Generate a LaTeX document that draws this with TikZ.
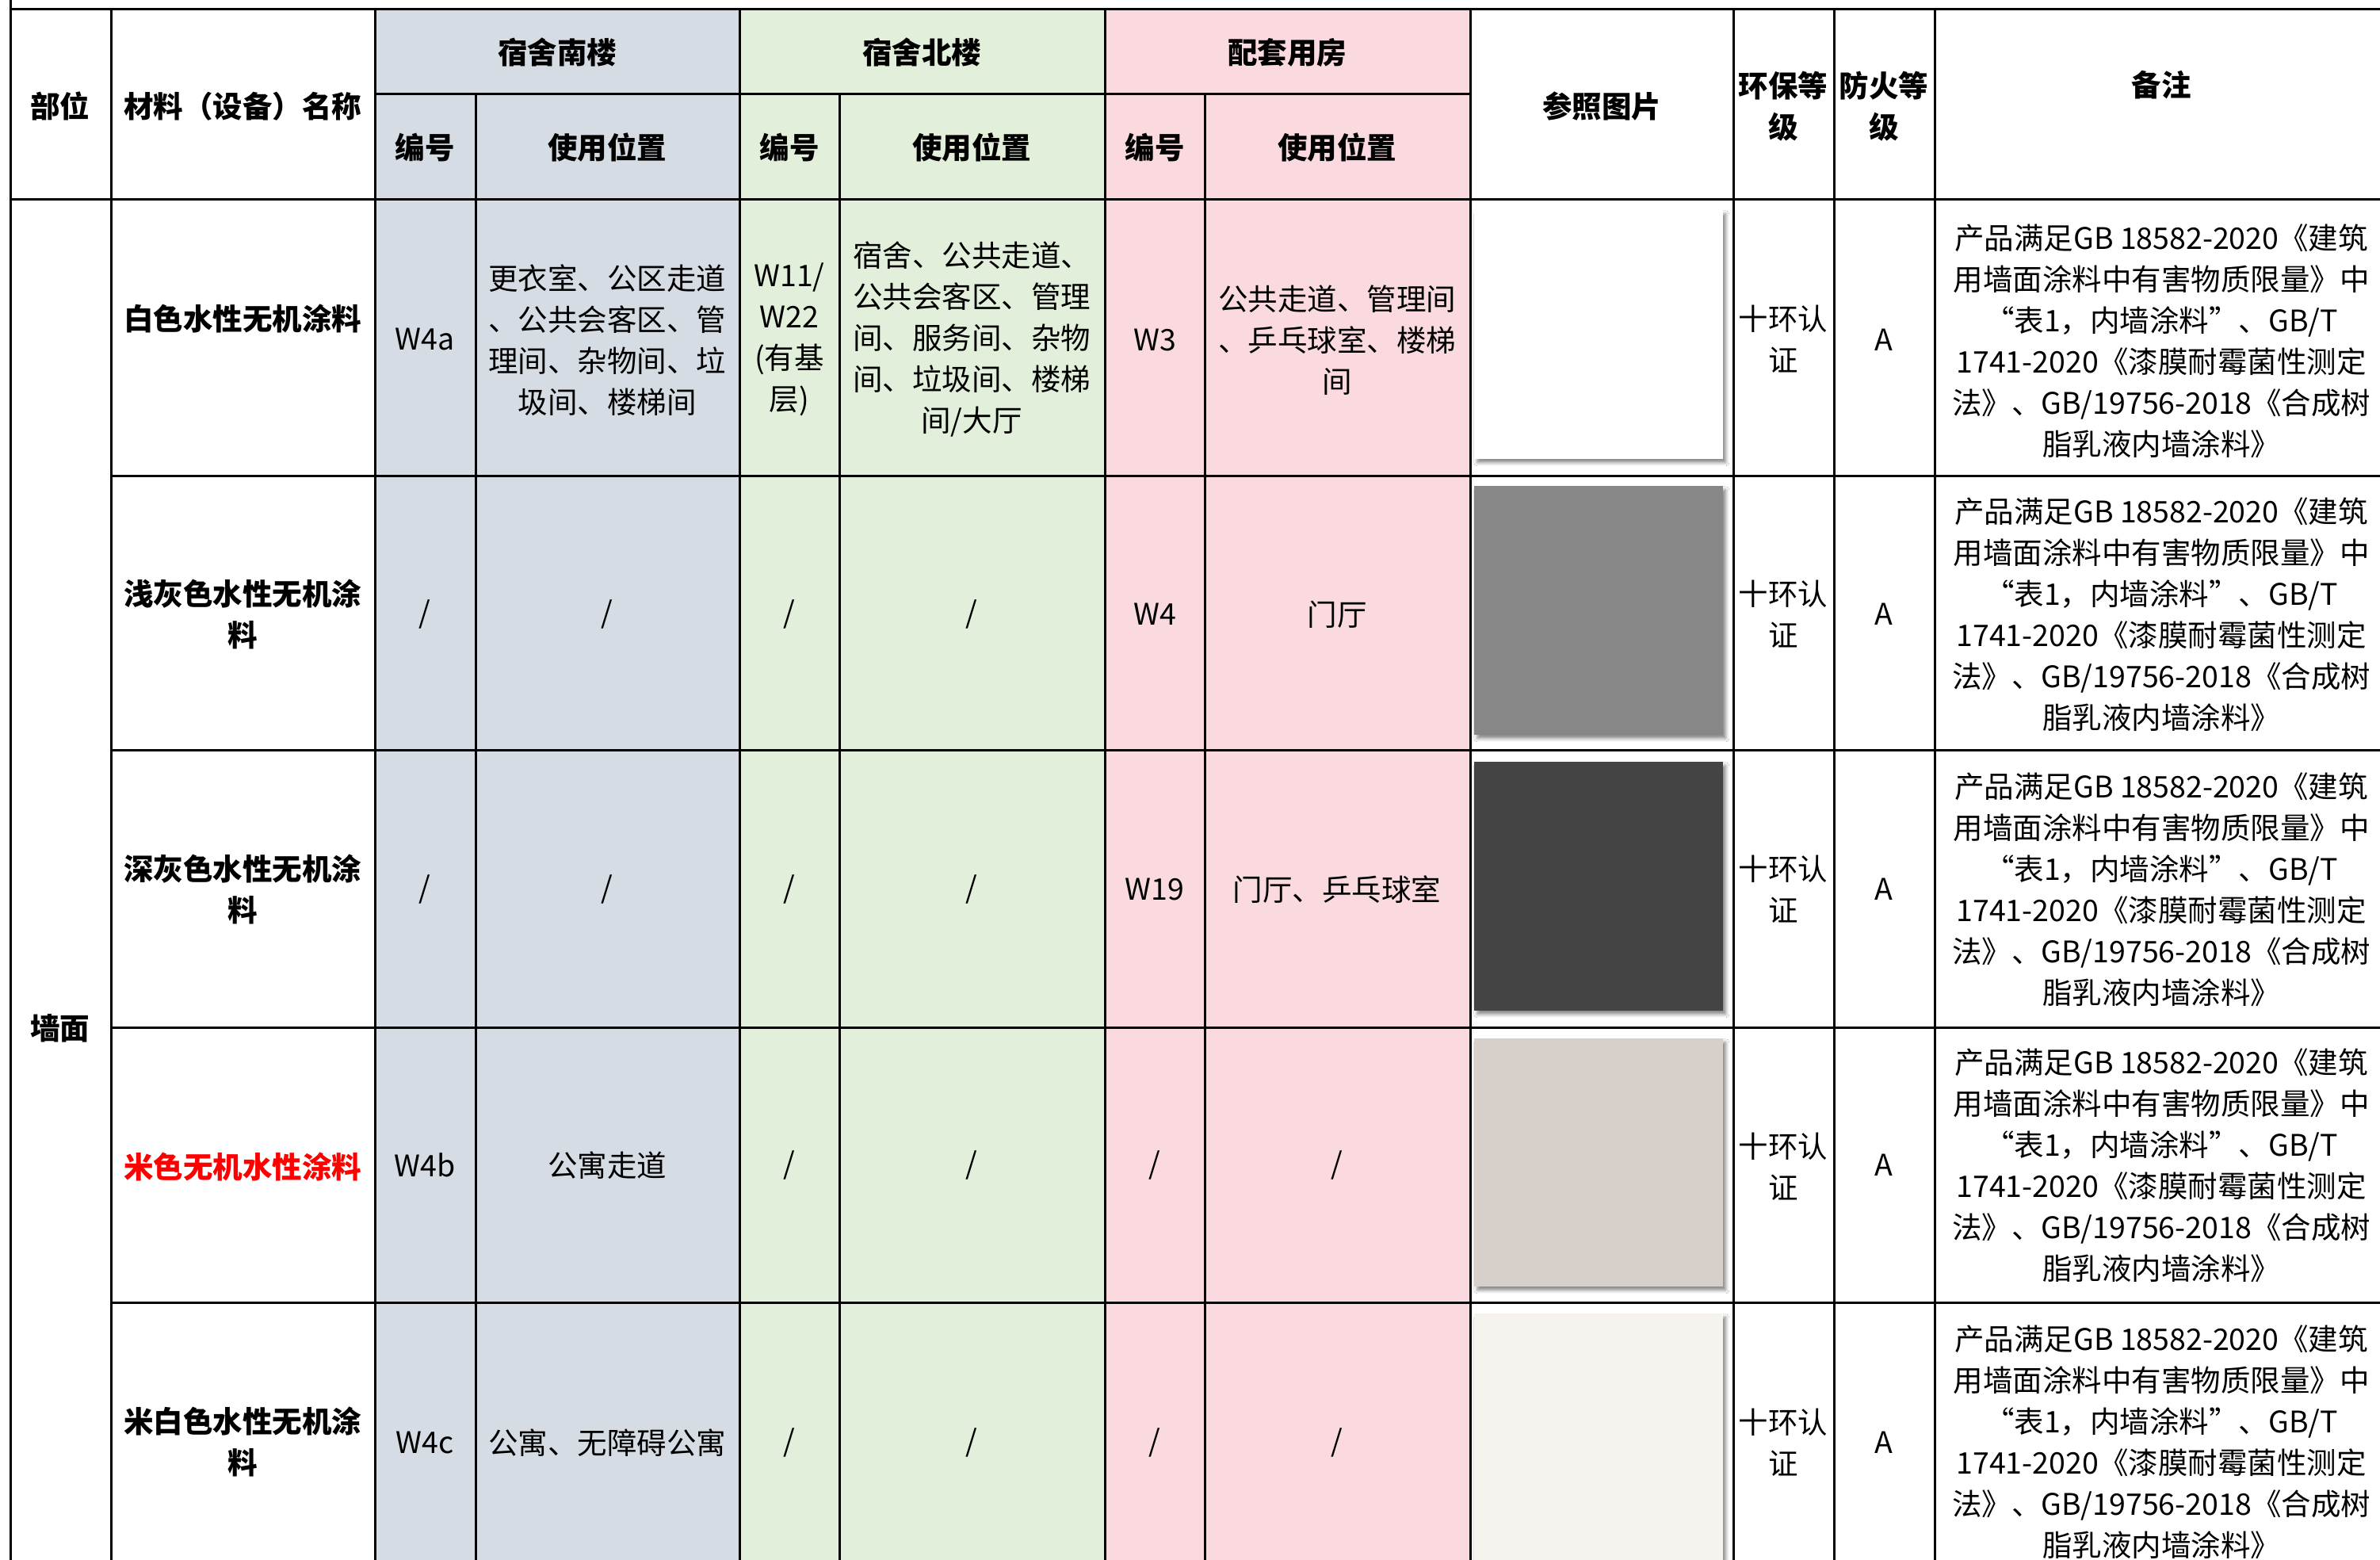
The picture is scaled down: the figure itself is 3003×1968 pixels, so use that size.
\documentclass[tikz,border=0pt]{standalone}
\usepackage{fontspec}
\setmainfont{Noto Sans CJK SC}
\usetikzlibrary{shadows.blur}
\definecolor{cblue}{HTML}{D6DCE4}
\definecolor{cgreen}{HTML}{E2EFDA}
\definecolor{cpink}{HTML}{FADADE}
\definecolor{imgwhite}{HTML}{FFFFFF}
\definecolor{imggray}{HTML}{878787}
\definecolor{imgdark}{HTML}{444444}
\definecolor{imgbeige}{HTML}{D7CFCA}
\definecolor{imgoff}{HTML}{F6F2EE}
\definecolor{cred}{HTML}{FF0000}
\newcommand\remtext{产品满足GB 18582-2020《建筑\\用墙面涂料中有害物质限量》中\\“表1，内墙涂料”、GB/T\\1741-2020《漆膜耐霉菌性测定\\法》、GB/19756-2018《合成树\\脂乳液内墙涂料》}
\tikzset{
  txt/.style={font=\fontsize{9.375pt}{13pt}\selectfont, align=center, inner sep=0pt},
  btxt/.style={font=\fontsize{9.375pt}{13pt}\selectfont\bfseries, align=center, inner sep=0pt},
  grid/.style={line width=0.75pt, black},
  swatch/.style={blur shadow={shadow xshift=1pt, shadow yshift=-1.25pt, shadow blur radius=1pt, shadow opacity=45}}
}
\begin{document}
\begin{tikzpicture}[x=0.25pt, y=-0.25pt]
\useasboundingbox (0,0) rectangle (3003,1968);
\begin{scope}
\clip (0,0) rectangle (3003,1968);
\fill[white] (0,0) rectangle (3003,1968);
% column fills
\fill[cblue] (473,12) rectangle (933,2000);
\fill[cgreen] (933,12) rectangle (1394,2000);
\fill[cpink] (1394,12) rectangle (1855,2000);
% swatches
\node[swatch, fill=imgwhite, minimum width=314*0.25pt, minimum height=314*0.25pt, inner sep=0pt, anchor=north west] (img1) at (1859,264) {};
\node[swatch, fill=imggray, minimum width=314*0.25pt, minimum height=314*0.25pt, inner sep=0pt, anchor=north west] (img2) at (1859,612) {};
\node[swatch, fill=imgdark, minimum width=314*0.25pt, minimum height=314*0.25pt, inner sep=0pt, anchor=north west] (img3) at (1859,960) {};
\node[swatch, fill=imgbeige, minimum width=314*0.25pt, minimum height=313*0.25pt, inner sep=0pt, anchor=north west] (img4) at (1859,1309) {};
\node[swatch, fill=imgoff, minimum width=314*0.25pt, minimum height=314*0.25pt, inner sep=0pt, anchor=north west] (img5) at (1859,1656) {};
% grid lines
\draw[grid] (13,12) -- (3010,12);
\draw[grid] (473,119) -- (1855,119);
\draw[grid] (13,252) -- (3010,252);
\foreach \yy in {601,947,1296,1643} { \draw[grid] (140,\yy) -- (3010,\yy); }
\draw[grid] (13,0) -- (13,2000);
\foreach \xx in {140,473,933,1394,1855,2187,2314,2441} { \draw[grid] (\xx,12) -- (\xx,2000); }
\foreach \xx in {600,1059,1520} { \draw[grid] (\xx,119) -- (\xx,2000); }
% header
\node[btxt] (hbuwei) at (76,134) {部位};
\node[btxt] (hname) at (306,134) {材料（设备）名称};
\node[btxt] (hsouth) at (703,66) {宿舍南楼};
\node[btxt] (hsno) at (536,186) {编号};
\node[btxt] (hspos) at (766,186) {使用位置};
\node[btxt] (hnorth) at (1163,66) {宿舍北楼};
\node[btxt] (hnno) at (996,186) {编号};
\node[btxt] (hnpos) at (1226,186) {使用位置};
\node[btxt] (hsup) at (1624,66) {配套用房};
\node[btxt] (hpno) at (1457,186) {编号};
\node[btxt] (hppos) at (1687,186) {使用位置};
\node[btxt] (hpic) at (2021,134) {参照图片};
\node[btxt] (henv) at (2250,134) {环保等\\级};
\node[btxt] (hfire) at (2377,134) {防火等\\级};
\node[btxt] (hnote) at (2727,107) {备注};
\node[btxt] (wall) at (76,1297) {墙面};
% row 1
\node[btxt] (n1) at (306,402) {白色水性无机涂料};
\node[txt] (s1no) at (536,428) {W4a};
\node[txt] (s1pos) at (766,429) {更衣室、公区走道\\、公共会客区、管\\理间、杂物间、垃\\圾间、楼梯间};
\node[txt] (n1no) at (996,428) {W11/\\W22\\(有基\\层)};
\node[txt] (n1pos) at (1226,428) {宿舍、公共走道、\\公共会客区、管理\\间、服务间、杂物\\间、垃圾间、楼梯\\间/大厅};
\node[txt] (p1no) at (1457,429) {W3};
\node[txt] (p1pos) at (1687,429) {公共走道、管理间\\、乒乓球室、楼梯\\间};
\node[txt] (e1) at (2250,428) {十环认\\证};
\node[txt] (f1) at (2377,429) {A};
\node[txt] (r1) at (2727,430) {\remtext};
% row 2
\node[btxt] (n2) at (306,775) {浅灰色水性无机涂\\料};
\node[txt] (s2no) at (536,775) {/};
\node[txt] (s2pos) at (766,775) {/};
\node[txt] (n2no) at (996,775) {/};
\node[txt] (n2pos) at (1226,775) {/};
\node[txt] (p2no) at (1457,775) {W4};
\node[txt] (p2pos) at (1687,775) {门厅};
\node[txt] (e2) at (2250,775) {十环认\\证};
\node[txt] (f2) at (2377,775) {A};
\node[txt] (r2) at (2727,775) {\remtext};
% row 3
\node[btxt] (n3) at (306,1122) {深灰色水性无机涂\\料};
\node[txt] (s3no) at (536,1122) {/};
\node[txt] (s3pos) at (766,1122) {/};
\node[txt] (n3no) at (996,1122) {/};
\node[txt] (n3pos) at (1226,1122) {/};
\node[txt] (p3no) at (1457,1122) {W19};
\node[txt] (p3pos) at (1687,1122) {门厅、乒乓球室};
\node[txt] (e3) at (2250,1122) {十环认\\证};
\node[txt] (f3) at (2377,1122) {A};
\node[txt] (r3) at (2727,1122) {\remtext};
% row 4
\node[btxt, text=cred] (n4) at (306,1472) {米色无机水性涂料};
\node[txt] (s4no) at (536,1470) {W4b};
\node[txt] (s4pos) at (766,1470) {公寓走道};
\node[txt] (n4no) at (996,1470) {/};
\node[txt] (n4pos) at (1226,1470) {/};
\node[txt] (p4no) at (1457,1470) {/};
\node[txt] (p4pos) at (1687,1470) {/};
\node[txt] (e4) at (2250,1472) {十环认\\证};
\node[txt] (f4) at (2377,1470) {A};
\node[txt] (r4) at (2727,1470) {\remtext};
% row 5
\node[btxt] (n5) at (306,1819) {米白色水性无机涂\\料};
\node[txt] (s5no) at (536,1820) {W4c};
\node[txt] (s5pos) at (766,1820) {公寓、无障碍公寓};
\node[txt] (n5no) at (996,1820) {/};
\node[txt] (n5pos) at (1226,1820) {/};
\node[txt] (p5no) at (1457,1820) {/};
\node[txt] (p5pos) at (1687,1820) {/};
\node[txt] (e5) at (2250,1820) {十环认\\证};
\node[txt] (f5) at (2377,1820) {A};
\node[txt] (r5) at (2727,1819) {\remtext};
\end{scope}
\end{tikzpicture}
\end{document}
